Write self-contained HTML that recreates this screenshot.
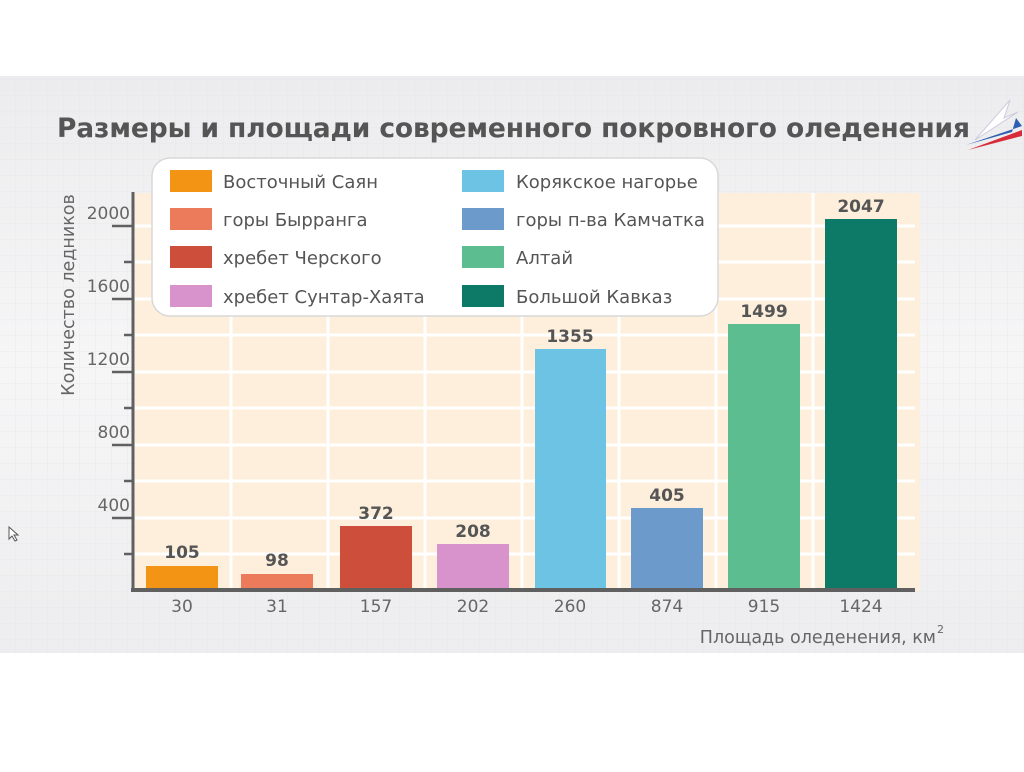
<!DOCTYPE html>
<html><head><meta charset="utf-8"><style>
body{margin:0;width:1024px;height:767px;background:#fff;overflow:hidden;font-family:"Liberation Sans","DejaVu Sans",sans-serif}
</style></head><body>
<svg width="1024" height="767" xmlns="http://www.w3.org/2000/svg" font-family="'DejaVu Sans','Liberation Sans',sans-serif">
<defs>
<pattern id="g" width="16" height="16" patternUnits="userSpaceOnUse"><path d="M16 0V16H0" fill="none" stroke="#e4e4e6" stroke-width="1"/></pattern>
<linearGradient id="bg" x1="0" y1="0" x2="0" y2="1"><stop offset="0" stop-color="#ececee"/><stop offset="0.5" stop-color="#f6f6f7"/><stop offset="1" stop-color="#ededef"/></linearGradient>
</defs>
<rect x="0" y="76" width="1024" height="577" fill="url(#bg)"/>
<rect x="0" y="76" width="1024" height="577" fill="url(#g)" opacity="0.6"/>
<rect x="135" y="193" width="785" height="398" fill="#fdefdc"/>
<g stroke="#fff" stroke-width="3">
<line x1="135" y1="226" x2="915" y2="226"/><line x1="135" y1="262" x2="915" y2="262"/>
<line x1="135" y1="299" x2="915" y2="299"/><line x1="135" y1="335" x2="915" y2="335"/>
<line x1="135" y1="372" x2="915" y2="372"/><line x1="135" y1="408" x2="915" y2="408"/>
<line x1="135" y1="445" x2="915" y2="445"/><line x1="135" y1="481" x2="915" y2="481"/>
<line x1="135" y1="518" x2="915" y2="518"/><line x1="135" y1="554" x2="915" y2="554"/>
<line x1="231" y1="193" x2="231" y2="591"/><line x1="328" y1="193" x2="328" y2="591"/>
<line x1="425" y1="193" x2="425" y2="591"/><line x1="522" y1="193" x2="522" y2="591"/>
<line x1="619" y1="193" x2="619" y2="591"/><line x1="716" y1="193" x2="716" y2="591"/>
<line x1="813" y1="193" x2="813" y2="591"/>
</g>
<rect x="146" y="566" width="72" height="25" fill="#f39414"/>
<rect x="241" y="574" width="72" height="17" fill="#ec7b5c"/>
<rect x="340" y="526" width="72" height="65" fill="#cd4e3b"/>
<rect x="437" y="544" width="72" height="47" fill="#d993cc"/>
<rect x="535" y="349" width="71" height="242" fill="#6cc3e3"/>
<rect x="631" y="508" width="72" height="83" fill="#6b9acb"/>
<rect x="728" y="324" width="72" height="267" fill="#5cbd91"/>
<rect x="825" y="219" width="72" height="372" fill="#0d7a68"/>
<g font-size="17" font-weight="bold" fill="#555" text-anchor="middle">
<text x="182" y="558">105</text><text x="277" y="566">98</text><text x="376" y="519">372</text>
<text x="473" y="537">208</text><text x="570" y="342">1355</text><text x="667" y="501">405</text>
<text x="764" y="317">1499</text><text x="861" y="212">2047</text>
</g>
<line x1="133" y1="192" x2="133" y2="592" stroke="#606060" stroke-width="3"/>
<line x1="131" y1="590" x2="915" y2="590" stroke="#606060" stroke-width="4"/>
<g stroke="#606060" stroke-width="2.5">
<line x1="112" y1="226" x2="133" y2="226"/><line x1="124" y1="262" x2="133" y2="262"/>
<line x1="112" y1="299" x2="133" y2="299"/><line x1="124" y1="335" x2="133" y2="335"/>
<line x1="112" y1="372" x2="133" y2="372"/><line x1="124" y1="408" x2="133" y2="408"/>
<line x1="112" y1="445" x2="133" y2="445"/><line x1="124" y1="481" x2="133" y2="481"/>
<line x1="112" y1="518" x2="133" y2="518"/><line x1="124" y1="554" x2="133" y2="554"/>
</g>
<g font-size="17" fill="#666" text-anchor="end">
<text x="130" y="219">2000</text><text x="130" y="292">1600</text><text x="130" y="365">1200</text>
<text x="130" y="438">800</text><text x="130" y="511">400</text>
</g>
<text transform="translate(74,295) rotate(-90)" font-size="17.5" fill="#666" text-anchor="middle">Количество ледников</text>
<g font-size="17" fill="#666" text-anchor="middle">
<text x="182" y="612">30</text><text x="277" y="612">31</text><text x="376" y="612">157</text>
<text x="473" y="612">202</text><text x="570" y="612">260</text><text x="667" y="612">874</text>
<text x="764" y="612">915</text><text x="861" y="612">1424</text>
</g>
<text x="936" y="643" font-size="17.5" fill="#666" text-anchor="end">Площадь оледенения, км</text>
<text x="937" y="633" font-size="11" fill="#666">2</text>
<text x="57" y="137" font-size="26.5" font-weight="bold" fill="#555" textLength="913">Размеры и площади современного покровного оледенения</text>
<path d="M975 140 L1010 100 L1004 118 L1018 112 Z" fill="#fff" stroke="#ccd" stroke-width="1"/>
<path d="M966 145 L1012 132 L1016 118 L1022 126 Z" fill="#2f5fb0"/>
<path d="M968 150 L1022 130 L1022 136 Z" fill="#d82c3a"/>
<rect x="152" y="158" width="566" height="158" rx="18" fill="#fff" stroke="#d8d8d8" stroke-width="1.5"/>
<rect x="170" y="170" width="42" height="22" fill="#f39414"/>
<rect x="170" y="208" width="42" height="22" fill="#ec7b5c"/>
<rect x="170" y="246" width="42" height="22" fill="#cd4e3b"/>
<rect x="170" y="285" width="42" height="22" fill="#d993cc"/>
<rect x="462" y="170" width="42" height="22" fill="#6cc3e3"/>
<rect x="462" y="208" width="42" height="22" fill="#6b9acb"/>
<rect x="462" y="246" width="42" height="22" fill="#5cbd91"/>
<rect x="462" y="285" width="42" height="22" fill="#0d7a68"/>
<g font-size="18" fill="#555">
<text x="223" y="188">Восточный Саян</text><text x="223" y="226">горы Бырранга</text>
<text x="223" y="264">хребет Черского</text><text x="223" y="303">хребет Сунтар-Хаята</text>
<text x="516" y="188">Корякское нагорье</text><text x="516" y="226">горы п-ва Камчатка</text>
<text x="516" y="264">Алтай</text><text x="516" y="303">Большой Кавказ</text>
</g>
<path d="M9 527 L9 539 L12 536 L15 541 L17 540 L14 535 L18 535 Z" fill="#fff" stroke="#555" stroke-width="1"/>
</svg>
</body></html>
